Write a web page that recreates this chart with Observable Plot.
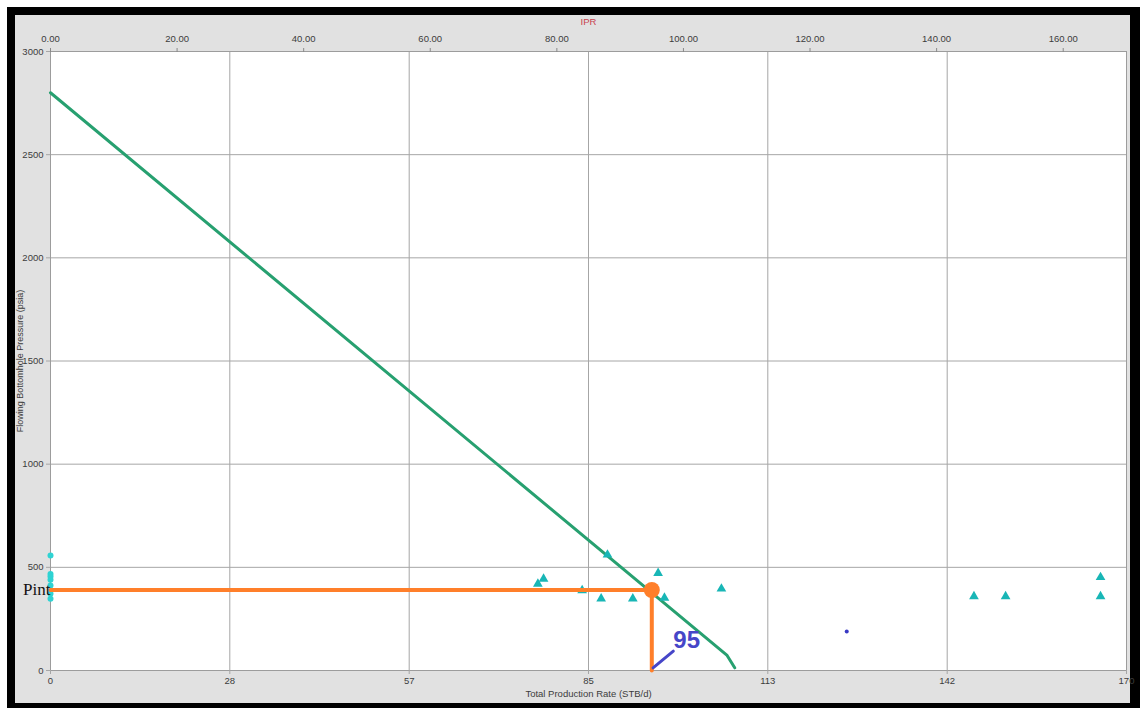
<!DOCTYPE html>
<html>
<head>
<meta charset="utf-8">
<script src="https://cdn.jsdelivr.net/npm/d3@7"></script>
<script src="https://cdn.jsdelivr.net/npm/@observablehq/plot@0.6"></script>
<style>
  html, body { margin: 0; padding: 0; background: #fff; }
  #border { position: absolute; left: 7px; top: 7px; width: 1133px; height: 701px; background: #000; }
  #panel { position: absolute; left: 8px; top: 8px; width: 1115px; height: 688px; background: #e1e1e1; }
  #panel svg { display: block; }
</style>
</head>
<body>
<div id="border"><div id="panel"></div></div>
<script>
// IPR curve (rate STB/d, flowing bottomhole pressure psia)
const iprRate = [0, 106.9, 108.1];
const iprPwf = [2800, 73, 13];

// Well test points
const testRate = [77.0, 77.9, 84.0, 87.0, 88.0, 92.0, 96.0, 97.0, 106.0, 145.9, 150.9, 165.9, 165.9];
const testPwf = [420, 444, 388, 348, 561, 348, 472, 352, 396, 359, 359, 359, 452];

// Zero-rate pressure readings
const zeroRatePwf = [557, 468, 455, 440, 412, 372, 348];

// Stray point
const strayRate = [125.8];
const strayPwf = [189];

// Operating point
const opRate = 95;
const opPwf = 390;

// Callout for the operating rate
const calloutText = "95";
const calloutTextRate = 98.4;
const calloutTextPwf = 111;
const calloutLineRate = [95.2, 98.4];
const calloutLinePwf = [13, 94];

// Axes
const xTicks = [0, 28.33, 56.67, 85, 113.33, 141.67, 170];
const xTickLabels = ["0", "28", "57", "85", "113", "142", "170"];
const topTicks = [0, 20, 40, 60, 80, 100, 120, 140, 160];
const topTickLabels = ["0.00", "20.00", "40.00", "60.00", "80.00", "100.00", "120.00", "140.00", "160.00"];
const yTicks = [0, 500, 1000, 1500, 2000, 2500, 3000];
const yTickLabels = ["0", "500", "1000", "1500", "2000", "2500", "3000"];

const chartTitle = "IPR";
const xTitle = "Total Production Rate (STB/d)";
const yTitle = "Flowing Bottomhole Pressure (psia)";

const ipr = iprRate.map((q, i) => ({q, p: iprPwf[i]}));
const tests = testRate.map((q, i) => ({q, p: testPwf[i]}));
const zeroRate = zeroRatePwf.map(p => ({q: 0, p}));
const stray = strayRate.map((q, i) => ({q, p: strayPwf[i]}));
const opPath = [{q: 0, p: opPwf}, {q: opRate, p: opPwf}, {q: opRate, p: 0}];
const callout = calloutLineRate.map((q, i) => ({q, p: calloutLinePwf[i]}));

const narrowFont = "'Liberation Sans Narrow', 'Liberation Sans', Arial, sans-serif";
const sansFont = "'Liberation Sans', Arial, sans-serif";
const gridGray = "#a6a6a6";
const labelGray = "#3c3c3c";

const chart = Plot.plot({
  width: 1115,
  height: 688,
  marginLeft: 35,
  marginRight: 4,
  marginTop: 36,
  marginBottom: 33,
  style: {background: "transparent", fontFamily: sansFont, fontSize: "9px", overflow: "visible"},
  x: {domain: [0, 170]},
  y: {domain: [0, 3000]},
  marks: [
    Plot.frame({fill: "#fff", stroke: null}),
    Plot.gridX(xTicks, {stroke: gridGray, strokeOpacity: 1}),
    Plot.gridY(yTicks, {stroke: gridGray, strokeOpacity: 1}),
    Plot.frame({stroke: "#9c9c9c"}),
    Plot.axisX(xTicks, {
      anchor: "bottom", label: null, tickSize: 4, tickPadding: 3,
      tickFormat: d => xTickLabels[xTicks.indexOf(d)],
      stroke: gridGray, fill: labelGray, fontFamily: narrowFont, fontSize: 9.5
    }),
    Plot.axisX(topTicks, {
      anchor: "top", label: null, tickSize: 4, tickPadding: 6,
      tickFormat: d => topTickLabels[topTicks.indexOf(d)],
      stroke: "#8a8a8a", fill: labelGray, fontFamily: narrowFont, fontSize: 9.5
    }),
    Plot.axisY(yTicks, {
      anchor: "left", label: null, tickSize: 4, tickPadding: 3,
      tickFormat: d => yTickLabels[yTicks.indexOf(d)],
      stroke: gridGray, fill: labelGray, fontFamily: narrowFont, fontSize: 9.5
    }),
    Plot.text([chartTitle], {frameAnchor: "top", textAnchor: "middle", lineAnchor: "middle", dy: -30, fill: "#c8404e", fontSize: 9.5, fontFamily: narrowFont}),
    Plot.text([xTitle], {frameAnchor: "bottom", textAnchor: "middle", lineAnchor: "middle", dy: 23, fill: labelGray, fontSize: 9.5, fontFamily: narrowFont}),
    Plot.text([yTitle], {frameAnchor: "left", textAnchor: "middle", lineAnchor: "middle", dx: -30, rotate: -90, fill: labelGray, fontSize: 9, fontFamily: sansFont}),
    Plot.line(ipr, {x: "q", y: "p", stroke: "#27a070", strokeWidth: 3}),
    Plot.dot(tests, {x: "q", y: "p", symbol: "triangle", r: 3.6, fill: "#18b6b6", stroke: null}),
    Plot.dot(zeroRate, {x: "q", y: "p", r: 3, fill: "#2fd3d3", stroke: null}),
    Plot.dot(stray, {x: "q", y: "p", r: 2, fill: "#3838c4", stroke: null}),
    Plot.line(opPath, {x: "q", y: "p", stroke: "#ff7f2a", strokeWidth: 4}),
    Plot.dot([{q: opRate, p: opPwf}], {x: "q", y: "p", r: 8, fill: "#ff7f2a", stroke: null}),
    Plot.text([{q: 0, p: opPwf}], {x: "q", y: "p", text: () => "Pint", textAnchor: "end", lineAnchor: "middle", fontFamily: "'Liberation Serif', 'DejaVu Serif', serif", fontSize: 17, fill: "#111"}),
    Plot.line(callout, {x: "q", y: "p", stroke: "#4646c8", strokeWidth: 3}),
    Plot.text([{q: calloutTextRate, p: calloutTextPwf}], {x: "q", y: "p", text: () => calloutText, textAnchor: "start", lineAnchor: "bottom", fontFamily: sansFont, fontWeight: "bold", fontSize: 24, fill: "#4646c8"})
  ]
});

document.getElementById("panel").appendChild(chart);
</script>
</body>
</html>
